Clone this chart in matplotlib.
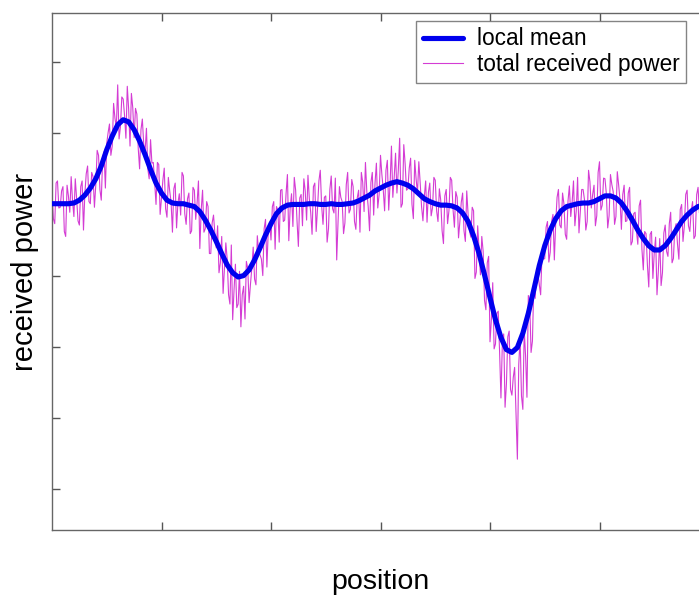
import numpy as np
import matplotlib
matplotlib.use("Agg")
import matplotlib.pyplot as plt

plt.rcParams['font.family'] = ['Liberation Sans', 'DejaVu Sans']

# local mean of the received power (dB), 0.5 m steps starting at 0 m
mean_step = 0.5
local_mean_db = [
    -19.9, -19.9, -19.9, -19.9, -19.8, -19.4, -18.7, -17.7, -16.4, -14.6,
    -12.3, -10.4, -8.8, -8.1, -8.4, -9.5, -11.1, -13.0, -15.1, -17.0,
    -18.4, -19.4, -19.8, -19.9, -19.9, -20.1, -20.3, -21.0, -22.2, -23.6,
    -25.2, -26.9, -28.5, -29.6, -30.2, -30.0, -29.2, -27.8, -26.1, -24.3,
    -22.7, -21.3, -20.5, -20.1, -20.0, -20.0, -20.0, -19.9, -19.9, -20.0,
    -20.0, -19.9, -20.0, -20.0, -19.9, -19.8, -19.5, -19.1, -18.7, -18.1,
    -17.7, -17.3, -17.0, -16.8, -17.0, -17.3, -17.8, -18.5, -19.2, -19.6,
    -19.9, -20.1, -20.1, -20.2, -20.5, -21.2, -22.4, -24.4, -26.9, -29.9,
    -33.1, -36.2, -38.7, -40.4, -40.8, -40.1, -38.1, -35.3, -32.0, -28.6,
    -25.8, -23.6, -22.0, -20.9, -20.3, -20.1, -19.9, -19.8, -19.8, -19.6,
    -19.2, -18.8, -18.8, -19.1, -19.8, -20.9, -22.2, -23.6, -24.8, -25.8,
    -26.4, -26.4, -25.8, -24.8, -23.6, -22.4, -21.5, -20.8, -20.3, -20.1,
    -19.9,
]

# fast fading around the local mean (dB) at 0, 0.25, 0.5, ... m
fading_db_a = [
    1.5, -2.8, 3.2, -0.5, 2.4, -4.6, 1.1, 3.8, -1.9, 0.6,
    -3.5, 2.7, 0.2, 4.1, -2.2, 1.6, -0.8, 3.3, -4.8, 2.0,
    0.9, 3.6, -1.4, 2.5, 5.6, -0.3, 2.9, -2.6, 1.8, 4.0,
    -1.1, 2.2, -3.9, 3.1, 0.4, -2.0, 4.2, 1.0, -3.0, 2.6,
    -0.7, 3.5, -2.4, 1.3, -4.1, 2.8, 0.1, -1.6, 3.9, -2.9,
    1.7, -3.6, 2.3, 0.5, -5.2, 3.0, -1.2, 1.9, -3.3, 2.1,
    -0.9, -4.4, 2.4, -2.1, 0.8, -5.5, -6.6, 1.2, -3.8, -7.0,
    -1.5, 2.0, -4.6, 0.3, -2.7, 3.4, -1.0, -3.9, 2.2, 0.6,
    -2.3, 3.1, 1.0, -4.0, 2.6, -1.7, 4.3, -0.4, -3.1, 2.0,
    -5.9, 1.4, 3.6, -2.2, 0.7, -4.3, 2.9, -0.6, 4.8, -2.8,
    1.2, -3.4, 3.9, -1.3, -7.8, 2.5, 0.4, -2.6, 4.4, -0.8,
    2.3, -3.7, 1.5, 4.0, -1.9, 0.9, -5.0, 3.2, 1.1, -2.4,
    4.6, -0.2, 2.1, -3.5, 5.2, 0.8, -1.6, 6.1, -2.9, 2.7,
    -0.5, 3.8, -4.2, 1.4, 4.5, -1.8, 0.3, -3.3, 2.6, -0.9,
    3.3, -2.5, 0.7, -5.4, 2.2, -0.8, 3.6, -3.0, 1.5, -1.9,
    2.8, -4.0, 1.0, -2.2, 3.5, -5.1, 0.6, 2.4, -3.6, 1.7,
    -6.2, 2.1, -3.4, 1.2, -8.5, 0.5, -4.8, 2.6, -6.0, -2.1,
    -15.7, 1.3, -10.7, -3.2, 2.5, -5.5, 0.8, 3.0, -2.7, 1.6,
    -1.8, 3.4, -3.1, 2.2, -0.6, 4.1, -2.4, 1.0, -4.6, 2.9,
    0.4, -2.9, 3.7, -1.1, 1.9, -3.8, 4.6, -0.7, 2.3, -2.0,
    5.2, -0.9, 2.4, -4.5, 3.0, 0.6, -2.6, 1.8, -3.7, 2.5,
    -1.4, 3.3, -3.0, 1.1, -2.0, 4.2, -4.4, 0.7, -5.8, 2.0,
    -0.4, -6.3, 1.6, -3.2, 2.9, -1.5, 3.7, -2.8, 0.9, -4.1,
    2.4, -0.6, 3.5, -2.3, 1.2, -3.6, 2.7, 0.1, -1.8, 3.1,
    -1.0,
]

# fast fading around the local mean (dB) at 0.125, 0.375, 0.625, ... m
fading_db_b = [
    -2.1, 2.9, -0.6, 1.8, -3.9, 2.6, -1.2, 0.4, 3.4, -2.5,
    1.9, -4.2, 3.0, -0.9, 2.2, -2.7, 4.0, -1.5, 1.1, -3.1,
    2.4, -0.8, 4.6, 1.2, -2.0, 3.9, 0.6, 4.7, -3.4, 2.0,
    3.0, -2.6, 1.6, -0.4, 3.7, -3.4, 0.9, -1.8, 2.9, -4.4,
    1.8, -2.2, 3.2, -0.3, 2.0, -3.5, 1.4, 4.4, -1.4, 0.7,
    -4.0, 2.5, -1.8, 3.6, 0.2, -2.9, 2.6, -4.7, 1.0, -0.5,
    2.2, -3.0, -5.6, 1.5, -4.2, 2.8, -2.4, -4.9, 0.8, -2.5,
    -6.1, 1.0, -2.0, 3.2, -3.5, 1.1, -1.6, 2.7, -4.5, 1.8,
    2.4, -3.6, 0.5, 3.3, -1.9, 2.0, -5.0, 1.6, 3.8, -2.3,
    0.9, -3.0, 1.9, 4.1, -1.2, 2.4, -3.9, 3.2, -0.2, 1.0,
    -5.3, 2.1, -0.7, 3.6, -2.4, 1.0, -4.1, 2.8, -1.3, 3.4,
    -2.6, 0.7, -4.4, 2.6, 5.0, -1.2, 1.8, -2.8, 3.9, -0.5,
    1.9, -3.2, 3.5, 0.2, -2.0, 4.2, 1.6, -3.6, 5.4, -1.0,
    2.4, -2.7, 4.0, -0.6, 1.5, -3.8, 2.5, 0.9, -2.0, 3.4,
    -1.0, 2.1, -3.6, 1.3, -2.6, 3.9, -0.5, 2.0, -4.2, 0.8,
    -2.5, 3.1, -1.3, 2.0, -6.0, 1.4, -3.0, 0.3, -4.9, 2.6,
    -3.1, -7.2, 0.9, -4.5, -1.0, -9.8, 1.8, -5.6, -3.5, -8.6,
    -2.4, -6.8, 0.4, -9.0, 1.7, -3.9, -1.2, 2.2, -4.1, 0.9,
    2.6, -2.3, 1.2, -4.2, 3.0, -0.9, 2.5, -3.3, 0.8, -1.4,
    3.4, -0.8, -4.1, 2.0, 0.5, -2.6, 3.0, 1.2, -3.4, 4.1,
    -1.6, 2.9, 0.3, -2.8, 1.6, -4.0, 3.7, -0.3, 1.2, -2.6,
    2.5, -4.8, 0.9, -1.6, 3.4, -2.7, 1.0, -3.7, 1.6, -4.6,
    1.8, -2.9, -5.0, 2.4, -0.8, 3.1, -3.4, 1.4, -2.0, 2.9,
    -2.8, 3.8, -1.5, 0.6, -4.0, 2.2, -0.9, 3.6, -3.0, 1.7,
]

x_ticks = [10, 20, 30, 40, 50]
y_ticks = [-60, -50, -40, -30, -20, -10, 0]

mean_arr = np.array(local_mean_db)
x_mean = np.arange(len(mean_arr)) * mean_step

fa = np.array(fading_db_a)
fb = np.array(fading_db_b)
ia = np.arange(len(fa))
ib = np.arange(len(fb))
xa = ia * 0.25
xb = 0.125 + ib * 0.25
ya = mean_arr[ia // 2] + fa
yb = mean_arr[ib // 2] + fb
x_total = np.empty(len(fa) + len(fb))
y_total = np.empty(len(fa) + len(fb))
x_total[0::2] = xa
x_total[1::2] = xb
y_total[0::2] = ya
y_total[1::2] = yb

W, H = 699, 595
fig = plt.figure(figsize=(W / 100, H / 100), dpi=100)
ax = fig.add_axes([52 / W, (H - 530) / H, (709 - 52) / W, (530 - 13) / H])

ax.plot(x_total, y_total, color='#d43cd4', lw=0.8, label='total received power', zorder=2)
ax.plot(x_mean, mean_arr, color='#0000ee', lw=3.7, label='local mean', zorder=3,
        solid_capstyle='round')

ax.set_xlim(0, 60)
ax.set_ylim(-65.75, 6.9)
ax.set_xticks(x_ticks)
ax.set_yticks(y_ticks)
ax.tick_params(direction='in', length=6, width=1, color='#555555',
               top=True, right=True, labelbottom=False, labelleft=False)
for s in ax.spines.values():
    s.set_color('#666666')
    s.set_linewidth(1.0)

ax.set_xlabel('position', fontsize=20.5, labelpad=28)
ax.set_ylabel('received power', fontsize=21, labelpad=9)

handles, labels = ax.get_legend_handles_labels()
leg = ax.legend(handles[::-1], labels[::-1], loc='upper left',
                bbox_to_anchor=(416 / W, 1 - 20.7 / H),
                bbox_transform=fig.transFigure,
                borderaxespad=0, fontsize=16.3, frameon=True, fancybox=False,
                handlelength=1.77, handletextpad=0.62, borderpad=0.3,
                labelspacing=0.1)
leg.get_frame().set_edgecolor('#666666')
leg.get_frame().set_linewidth(1.0)

fig.savefig('out.png', dpi=100)
